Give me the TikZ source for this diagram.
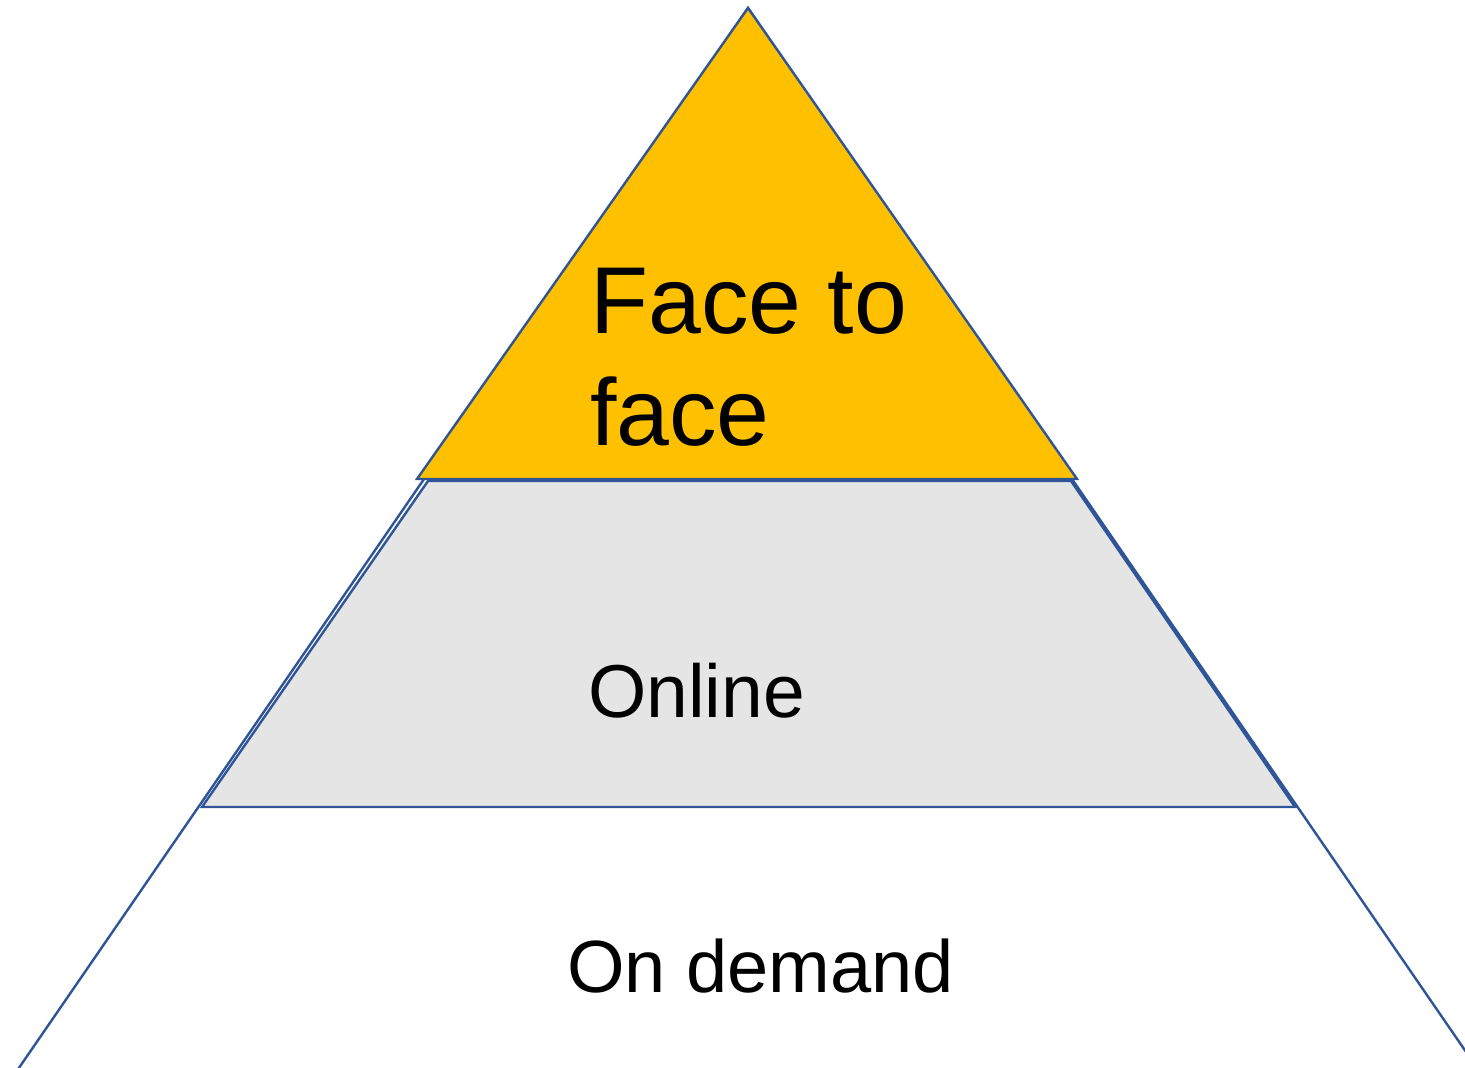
\documentclass[tikz,border=0pt]{standalone}
\usepackage{fontspec}
\setmainfont{Liberation Sans}
\definecolor{edge}{HTML}{2F5597}
\definecolor{gold}{HTML}{FFC000}
\definecolor{lgray}{HTML}{E5E5E5}
\begin{document}
\begin{tikzpicture}[x=1pt,y=-1pt,
  tier/.style={draw=edge,line width=2.4pt,line join=miter},
  lbl/.style={inner sep=0pt,anchor=base west,text=black}]
\useasboundingbox (0,0) rectangle (1465,1068);
\begin{scope}
\clip (0,0) rectangle (1465,1068);
\draw[tier] (748,8) -- (-10,1110) -- (1506,1110) -- cycle;
\end{scope}
\filldraw[tier,fill=lgray] (428,481) -- (1071,481) -- (1295,807) -- (202,807) -- cycle;
\filldraw[tier,fill=gold] (748,8) -- (1077,479) -- (417,479) -- cycle;
\node[lbl,align=left,font=\fontsize{95}{112}\selectfont] (ftf) at (590,445) {Face to\\face};
\node[lbl,font=\fontsize{75}{90}\selectfont] (onl) at (588,717) {Online};
\node[lbl,font=\fontsize{74}{90}\selectfont] (ond) at (567,992) {On demand};
\end{tikzpicture}
\end{document}
